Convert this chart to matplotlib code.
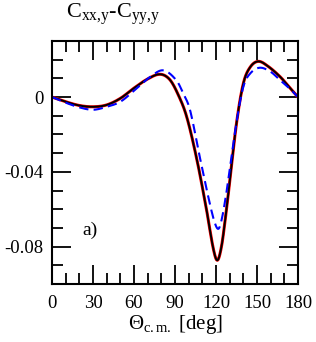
import numpy as np
import matplotlib
matplotlib.use("Agg")
import matplotlib.pyplot as plt
from matplotlib.ticker import MultipleLocator

plt.rcParams['font.family'] = ['Liberation Serif', 'DejaVu Serif']
plt.rcParams['mathtext.fontset'] = 'custom'
plt.rcParams['mathtext.rm'] = 'Liberation Serif'
plt.rcParams['mathtext.it'] = 'Liberation Serif:italic'

# values
theta_full = [0, 10, 20, 30, 40, 50, 60, 70, 79, 86, 92, 98.5, 106, 113, 118, 121, 124,
              127, 130, 135, 140, 145, 151, 158, 167, 174, 180]
full = [0.0, -0.0025, -0.0045, -0.0052, -0.0042, -0.0007, 0.0048, 0.0097, 0.0122, 0.0095, 0.0018,
        -0.0104, -0.0334, -0.06, -0.081, -0.0873, -0.08, -0.064, -0.0455, -0.014, 0.0073,
        0.016, 0.0191, 0.0165, 0.0108, 0.005, 0.0]

theta_dash = [0, 10, 20, 30, 40, 50, 60, 72, 81.5, 91, 96, 101, 108, 115, 119, 121.7, 124,
              127, 130, 135, 140, 145, 152, 160, 167, 174, 180]
dashed = [0.0, -0.003, -0.0055, -0.0068, -0.0052, -0.0025, 0.0034, 0.0109, 0.0143, 0.009, 0.002,
          -0.0069, -0.0316, -0.0555, -0.067, -0.0705, -0.066, -0.054, -0.039, -0.0135, 0.0055,
          0.0126, 0.0157, 0.0135, 0.009, 0.0045, 0.0]


def smooth(xs, ys):
    # piecewise cubic hermite (Catmull-Rom style slopes)
    xs = np.asarray(xs, float)
    ys = np.asarray(ys, float)
    n = len(xs)
    m = np.zeros(n)
    for i in range(n):
        if i == 0:
            m[i] = (ys[1] - ys[0]) / (xs[1] - xs[0])
        elif i == n - 1:
            m[i] = (ys[-1] - ys[-2]) / (xs[-1] - xs[-2])
        else:
            m[i] = (ys[i + 1] - ys[i - 1]) / (xs[i + 1] - xs[i - 1])
    xo, yo = [], []
    for i in range(n - 1):
        h = xs[i + 1] - xs[i]
        t = np.linspace(0, 1, 20, endpoint=False)
        h00 = 2 * t**3 - 3 * t**2 + 1
        h10 = t**3 - 2 * t**2 + t
        h01 = -2 * t**3 + 3 * t**2
        h11 = t**3 - t**2
        xo.extend(xs[i] + t * h)
        yo.extend(h00 * ys[i] + h10 * h * m[i] + h01 * ys[i + 1] + h11 * h * m[i + 1])
    xo.append(xs[-1])
    yo.append(ys[-1])
    return np.array(xo), np.array(yo)


fig = plt.figure(figsize=(3.16, 3.42), dpi=100)
ax = fig.add_axes([52 / 316, 1 - 284 / 342, 246 / 316, 243 / 342])

xf, yf = smooth(theta_full, full)
xd, yd = smooth(theta_dash, dashed)
ax.plot(xf, yf, color='red', lw=2.2)
ax.plot(xf, yf, color='black', lw=1.4)
ax.plot(xd, yd, color='blue', lw=1.5, ls=(0, (4.5, 2.5)))

ax.set_xlim(0, 180)
ax.set_ylim(-0.1, 0.03)
ax.xaxis.set_major_locator(MultipleLocator(30))
ax.xaxis.set_minor_locator(MultipleLocator(10))
ax.yaxis.set_major_locator(MultipleLocator(0.04))
ax.yaxis.set_minor_locator(MultipleLocator(0.01))
ax.yaxis.set_major_formatter(plt.FuncFormatter(lambda v, p: '0' if abs(v) < 1e-9 else f'{v:.2f}'))
ax.tick_params(which='both', direction='in', top=True, right=True, labelsize=13.5, width=1.3)
ax.tick_params(which='major', length=14)
ax.tick_params(which='minor', length=8)
ax.tick_params(axis='x', pad=8)
ax.tick_params(axis='y', pad=6)
for s in ax.spines.values():
    s.set_linewidth(1.5)

ax.set_xlabel(r'$\Theta_{\rm c{.}m{.}}$ [deg]', fontsize=15, labelpad=1)
ax.text(22, -0.0715, 'a)', fontsize=14, va='center')
fig.text(66 / 316, 1 - 14 / 342, r'C$_{\rm xx{,}y}$-C$_{\rm yy{,}y}$', fontsize=16, va='center')

fig.savefig('out.png', dpi=100)
